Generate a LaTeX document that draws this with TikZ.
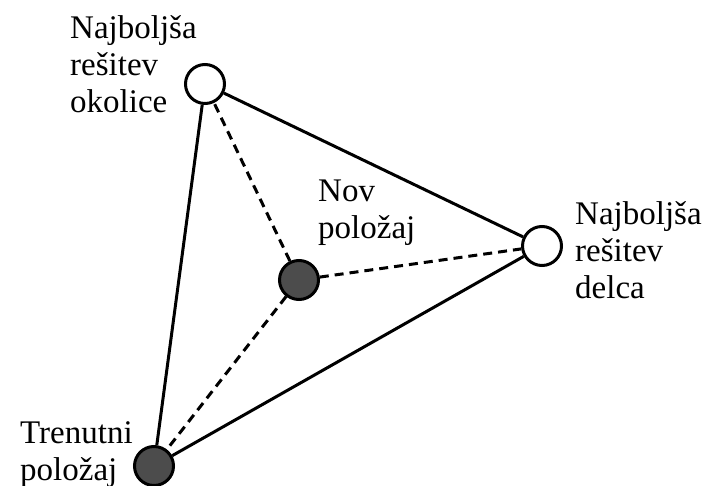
\documentclass[tikz,border=0pt]{standalone}
\usepackage{fontspec}
\setmainfont{Liberation Serif}
\tikzset{
  tocka/.style={circle, draw, line width=3pt, minimum size=39pt, inner sep=0pt},
  bela/.style={tocka, fill=white},
  temna/.style={tocka, fill=black!70},
  oznaka/.style={anchor=north west, inner sep=0pt, align=left, font=\fontsize{33}{37}\selectfont},
  crta/.style={line width=3pt},
  crtkano/.style={line width=3pt, dash pattern=on 9pt off 6pt}
}
\begin{document}
\begin{tikzpicture}[x=1pt,y=-1pt]
\useasboundingbox (0,0) rectangle (708,486);
\node[bela] (okolica) at (205,84) {};
\node[bela] (delec) at (542,246) {};
\node[temna] (nov) at (299,280) {};
\node[temna] (trenutni) at (154,466) {};
\draw[crta] (okolica) -- (delec) -- (trenutni) -- (okolica);
\draw[crtkano] (nov) -- (okolica)
  (nov) -- (delec)
  (nov) -- (trenutni);
\node[oznaka] (t1) at (70,15) {Najboljša\\rešitev\\okolice};
\node[oznaka] (t2) at (318,180) {Nov\\položaj};
\node[oznaka] (t3) at (575,201) {Najboljša\\rešitev\\delca};
\node[oznaka] (t4) at (20,421) {Trenutni\\položaj};
\end{tikzpicture}
\end{document}
